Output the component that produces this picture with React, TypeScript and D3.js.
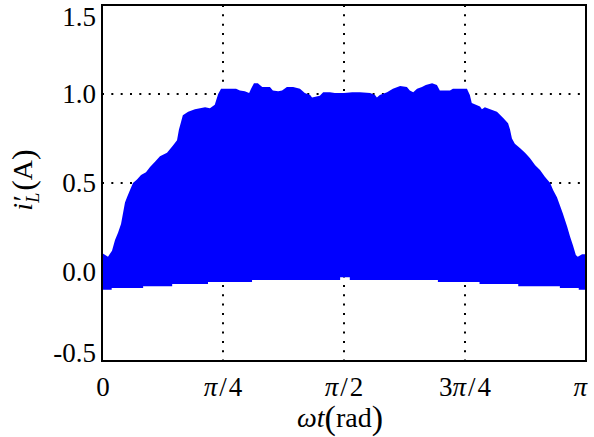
import React from "react";
import * as d3 from "d3";

const WIDTH = 594;
const HEIGHT = 437;
const PLOT = { left: 102, right: 586, top: 5, bottom: 361 };
const FONT = "'Liberation Serif', 'Times New Roman', serif";
const BLUE = "#0000ff";

// ωt expressed as a fraction of π, with the peak envelope of i'_L (A)
const upperPhase = [
  0, 0.0124, 0.0207, 0.0269, 0.0331, 0.0393, 0.0434, 0.0475, 0.0517, 0.0579,
  0.064, 0.0723, 0.0806, 0.0909, 0.0992, 0.1095, 0.1198, 0.1343, 0.1467, 0.155,
  0.159, 0.163, 0.167, 0.178, 0.192, 0.213, 0.223, 0.233, 0.24, 0.246,
  0.277, 0.285, 0.295, 0.304, 0.308, 0.314, 0.322, 0.331, 0.347, 0.353,
  0.364, 0.372, 0.382, 0.395, 0.409, 0.419, 0.43, 0.434, 0.45, 0.457,
  0.471, 0.481, 0.5, 0.517, 0.533, 0.554, 0.564, 0.568, 0.574, 0.589,
  0.601, 0.616, 0.63, 0.636, 0.643, 0.651, 0.661, 0.669, 0.682, 0.692,
  0.698, 0.719, 0.725, 0.754, 0.76, 0.764, 0.781, 0.785, 0.791, 0.802,
  0.816, 0.829, 0.839, 0.843, 0.847, 0.853, 0.864, 0.874, 0.884, 0.895,
  0.905, 0.915, 0.926, 0.932, 0.94, 0.946, 0.952, 0.961, 0.967, 0.973,
  0.979, 0.983, 0.992, 1,
];
const upperCurrent = [
  0.107, 0.086, 0.12, 0.18, 0.22, 0.27, 0.33, 0.39, 0.42, 0.46,
  0.5, 0.52, 0.545, 0.56, 0.59, 0.62, 0.65, 0.67, 0.71, 0.74,
  0.8, 0.84, 0.88, 0.9, 0.915, 0.925, 0.92, 0.94, 1.0, 1.03,
  1.03, 1.02, 1.015, 1.005, 1.03, 1.06, 1.06, 1.04, 1.04, 1.02,
  1.015, 1.02, 1.04, 1.04, 1.03, 1.005, 0.995, 0.98, 0.99, 1.01,
  1.01, 1.005, 1.005, 1.01, 1.01, 1.005, 0.995, 0.98, 0.995, 1.01,
  1.03, 1.045, 1.04, 1.02, 1.01, 1.03, 1.04, 1.05, 1.06, 1.05,
  1.02, 1.02, 1.03, 1.03, 0.995, 0.95, 0.93, 0.915, 0.925, 0.915,
  0.9, 0.865, 0.835, 0.8, 0.75, 0.72, 0.695, 0.67, 0.64, 0.6,
  0.573, 0.535, 0.5, 0.46, 0.42, 0.375, 0.33, 0.255, 0.2, 0.15,
  0.095, 0.086, 0.1, 0.1,
];

// Negative peak envelope (held between the listed phases)
const lowerPhase = [
  0, 0.02, 0.085, 0.145, 0.219, 0.31, 0.492, 0.512, 0.694, 0.78, 0.86, 0.946,
  0.985, 1,
];
const lowerCurrent = [
  -0.1, -0.09, -0.08, -0.067, -0.056, -0.045, -0.03, -0.045, -0.056, -0.067,
  -0.08, -0.09, -0.1, -0.1,
];

const yTickValues = [-0.5, 0, 0.5, 1.0, 1.5];
const yTickLabels = ["-0.5", "0.0", "0.5", "1.0", "1.5"];
const xTickFractions = [0, 0.25, 0.5, 0.75, 1];
const xTickLabels = ["0", "π/4", "π/2", "3π/4", "π"];
const gridY = [0, 0.5, 1.0];
const gridXFractions = [0.25, 0.5, 0.75];

function PiText({ label }: { label: string }) {
  const parts = label.split(/(π|\/)/).filter((p) => p.length > 0);
  return (
    <>
      {parts.map((p, i) => (
        <tspan
          key={i}
          fontStyle={p === "π" ? "italic" : "normal"}
          dx={i > 0 && (p === "/" || parts[i - 1] === "/") ? 2 : 0}
        >
          {p}
        </tspan>
      ))}
    </>
  );
}

export default function App() {
  const x = d3
    .scaleLinear()
    .domain([0, Math.PI])
    .range([PLOT.left, PLOT.right]);
  const y = d3
    .scaleLinear()
    .domain([-0.5, 1.5])
    .range([PLOT.bottom, PLOT.top]);

  const upper = upperPhase.map((p, i) => ({ t: p * Math.PI, v: upperCurrent[i] }));
  const lower = lowerPhase.map((p, i) => ({ t: p * Math.PI, v: lowerCurrent[i] }));

  // the two halves overlap a few pixels around zero so the band is seamless
  const upperArea = d3
    .area<{ t: number; v: number }>()
    .x((d) => x(d.t))
    .y0(y(0) + 3)
    .y1((d) => y(d.v));
  const lowerArea = d3
    .area<{ t: number; v: number }>()
    .curve(d3.curveStepAfter)
    .x((d) => x(d.t))
    .y0(y(0) - 3)
    .y1((d) => y(d.v));

  const dots = "2 7.33";
  const tickSize = 27;

  return (
    <svg
      width={WIDTH}
      height={HEIGHT}
      style={{ position: "absolute", left: 0, top: 0, background: "#fff" }}
      fontFamily={FONT}
    >
      <rect x={0} y={0} width={WIDTH} height={HEIGHT} fill="#fff" />

      {/* dotted grid */}
      {gridY.map((v) => (
        <line
          key={"gy" + v}
          x1={PLOT.left}
          x2={PLOT.right}
          y1={y(v)}
          y2={y(v)}
          stroke="#000"
          strokeWidth={2}
          strokeDasharray={dots}
        />
      ))}
      {gridXFractions.map((f) => (
        <line
          key={"gx" + f}
          x1={x(f * Math.PI)}
          x2={x(f * Math.PI)}
          y1={PLOT.top}
          y2={PLOT.bottom}
          stroke="#000"
          strokeWidth={2}
          strokeDasharray={dots}
        />
      ))}

      {/* switching ripple band of the inductor current */}
      <path d={upperArea(upper) ?? ""} fill={BLUE} />
      <path d={lowerArea(lower) ?? ""} fill={BLUE} />

      {/* axes box */}
      <rect
        x={PLOT.left}
        y={PLOT.top}
        width={PLOT.right - PLOT.left}
        height={PLOT.bottom - PLOT.top}
        fill="none"
        stroke="#000"
        strokeWidth={2}
      />

      {/* y tick labels */}
      {yTickValues.map((v, i) => {
        let yy = y(v) + 9;
        if (i === 0) yy = y(v) + 1;
        if (i === yTickValues.length - 1) yy = y(v) + 21;
        return (
          <text
            key={"yt" + v}
            x={PLOT.left - 6}
            y={yy}
            textAnchor="end"
            fontSize={tickSize}
            fill="#000"
          >
            {yTickLabels[i]}
          </text>
        );
      })}

      {/* x tick labels */}
      {xTickFractions.map((f, i) => {
        const last = i === xTickFractions.length - 1;
        return (
          <text
            key={"xt" + f}
            x={last ? x(f * Math.PI) + 1 : x(f * Math.PI) + (i === 0 ? 1 : 0)}
            y={396}
            textAnchor={last ? "end" : "middle"}
            fontSize={tickSize}
            fill="#000"
          >
            <PiText label={xTickLabels[i]} />
          </text>
        );
      })}

      {/* x axis title */}
      <text x={340} y={427} textAnchor="middle" fontSize={28} fill="#000">
        <tspan fontStyle="italic">ωt</tspan>
        <tspan fontSize={34} dy={2}>(</tspan>
        <tspan dy={-2}>rad</tspan>
        <tspan fontSize={34} dy={2}>)</tspan>
      </text>

      {/* y axis title */}
      <text
        transform="translate(32,180) rotate(-90)"
        textAnchor="middle"
        fontSize={28}
        fill="#000"
      >
        <tspan fontStyle="italic">i</tspan>
        <tspan fontStyle="italic">′</tspan>
        <tspan fontStyle="italic" fontSize={18} dy={7} dx={-6}>L</tspan>
        <tspan fontSize={32} dy={-5} dx={2}>(</tspan>
        <tspan dy={-2}>A</tspan>
        <tspan fontSize={32} dy={2}>)</tspan>
      </text>
    </svg>
  );
}
